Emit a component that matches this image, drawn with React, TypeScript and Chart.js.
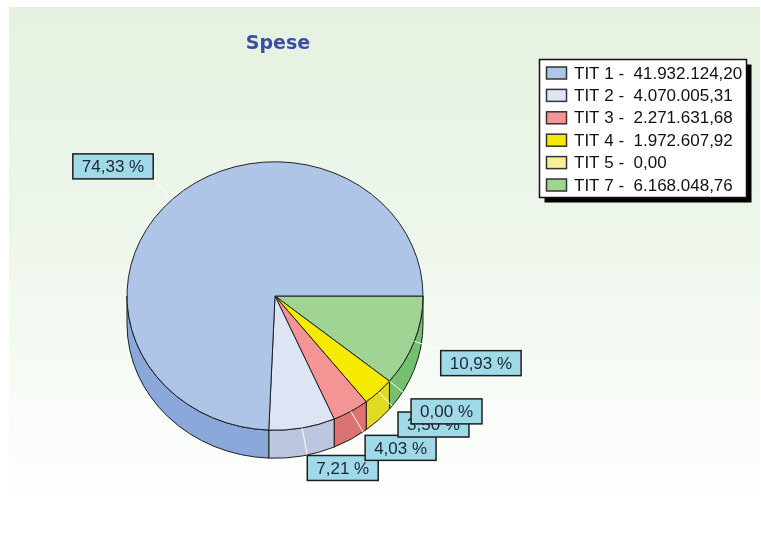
import React, { useEffect, useRef } from "react";
import { Chart, registerables } from "chart.js";

Chart.register(...registerables);

// ---- data ----
const chartTitle = "Spese";
const categories = ["TIT 1", "TIT 2", "TIT 3", "TIT 4", "TIT 5", "TIT 7"];
const values = [41932124.2, 4070005.31, 2271631.68, 1972607.92, 0.0, 6168048.76];
const valueLabels = ["41.932.124,20", "4.070.005,31", "2.271.631,68", "1.972.607,92", "0,00", "6.168.048,76"];
const percentLabels = ["74,33 %", "7,21 %", "4,03 %", "3,50 %", "0,00 %", "10,93 %"];

// ---- styles ----
const topColors = ["#aec5e7", "#dde4f4", "#f49494", "#f5ea00", "#f7f09a", "#a0d494"];
const sideColors = ["#8ca8da", "#bcc6de", "#dc7373", "#dfdb22", "#e0da80", "#74c070"];
const EDGE = "#1a1a1a";
const DEPTH = 28;
const TILT = 0.907;
const LABEL_FONT = "17px 'Liberation Sans', Arial, sans-serif";

const pie3d = {
  id: "pie3d",
  beforeDraw(chart: any) {
    const ctx = chart.ctx as CanvasRenderingContext2D;
    ctx.save();
    const g = ctx.createLinearGradient(0, 7, 0, 510);
    g.addColorStop(0, "#e5f1e1");
    g.addColorStop(0.5, "#eff7ed");
    g.addColorStop(1, "#ffffff");
    ctx.fillStyle = g;
    ctx.fillRect(9, 7, 751, 503);
    // title
    ctx.font = "bold 19px 'DejaVu Sans', Verdana, sans-serif";
    ctx.fillStyle = "#3a4ea2";
    ctx.textAlign = "center";
    ctx.textBaseline = "alphabetic";
    ctx.fillText(chartTitle, 278, 49);
    ctx.restore();
  },
  beforeDatasetsDraw(chart: any) {
    const ctx = chart.ctx as CanvasRenderingContext2D;
    const meta = chart.getDatasetMeta(0);
    const n = meta.data.length;
    ctx.save();
    for (let j = 0; j < n; j++) {
      const arc = meta.data[j];
      const p = arc.getProps(["x", "y", "startAngle", "endAngle", "outerRadius"], true);
      const rx = p.outerRadius;
      const ry = p.outerRadius * TILT;
      const a0 = Math.max(p.startAngle, 0);
      const b0 = Math.min(p.endAngle, Math.PI);
      if (b0 <= a0) continue;
      const i = n - 1 - j;
      ctx.beginPath();
      ctx.ellipse(p.x, p.y, rx, ry, 0, a0, b0, false);
      ctx.ellipse(p.x, p.y + DEPTH, rx, ry, 0, b0, a0, true);
      ctx.closePath();
      ctx.fillStyle = sideColors[i];
      ctx.fill();
      ctx.strokeStyle = EDGE;
      ctx.lineWidth = 1;
      ctx.stroke();
    }
    ctx.restore();
    const cy = meta.data[0].y;
    ctx.save();
    ctx.translate(0, cy);
    ctx.scale(1, TILT);
    ctx.translate(0, -cy);
  },
  afterDatasetsDraw(chart: any) {
    const ctx = chart.ctx as CanvasRenderingContext2D;
    ctx.restore();
    const meta = chart.getDatasetMeta(0);
    const n = meta.data.length;
    const boxes: any[] = [];
    ctx.save();
    ctx.font = LABEL_FONT;
    for (let i = 0; i < categories.length; i++) {
      const j = n - 1 - i;
      const p = meta.data[j].getProps(["x", "y", "startAngle", "endAngle", "outerRadius"], true);
      const m = (p.startAngle + p.endAngle) / 2;
      const c = Math.cos(m);
      const s = Math.sin(m);
      const px = p.x + p.outerRadius * c;
      const py = p.y + p.outerRadius * TILT * s;
      const ex = px + 28 * c;
      const ey = py + 28 * s;
      const w = ctx.measureText(percentLabels[i]).width + 18;
      const h = 25;
      const bx = c >= 0 ? ex : ex - w;
      const by = s >= 0 ? ey : ey - h;
      boxes.push({ bx, by, w, h, text: percentLabels[i], px, py, ex, ey });
    }
    // leaders
    ctx.strokeStyle = "#ffffff";
    ctx.lineWidth = 1;
    for (const b of boxes) {
      ctx.beginPath();
      ctx.moveTo(b.px, b.py);
      ctx.lineTo(b.ex, b.ey);
      ctx.stroke();
    }
    // label boxes
    for (const b of boxes) {
      ctx.fillStyle = "#a0dae8";
      ctx.fillRect(b.bx, b.by, b.w, b.h);
      ctx.strokeStyle = "#1e1e1e";
      ctx.lineWidth = 1.5;
      ctx.strokeRect(b.bx, b.by, b.w, b.h);
      ctx.fillStyle = "#1c2533";
      ctx.textAlign = "center";
      ctx.textBaseline = "middle";
      ctx.fillText(b.text, b.bx + b.w / 2, b.by + b.h / 2 + 1);
    }
    // legend
    const lx = 539.5, ly = 59.5, lw = 207, lh = 138;
    ctx.fillStyle = "#000000";
    ctx.fillRect(lx + 5, ly + 5, lw, lh);
    ctx.fillStyle = "#ffffff";
    ctx.fillRect(lx, ly, lw, lh);
    ctx.strokeStyle = "#111111";
    ctx.lineWidth = 1.5;
    ctx.strokeRect(lx, ly, lw, lh);
    ctx.font = LABEL_FONT;
    ctx.textAlign = "left";
    ctx.textBaseline = "middle";
    for (let i = 0; i < categories.length; i++) {
      const yc = 73 + i * 22.4;
      ctx.fillStyle = topColors[i];
      ctx.fillRect(546.5, yc - 6, 20, 12);
      ctx.strokeStyle = "#333333";
      ctx.lineWidth = 1.5;
      ctx.strokeRect(546.5, yc - 6, 20, 12);
      ctx.fillStyle = "#111111";
      ctx.fillText(`${categories[i]} -  ${valueLabels[i]}`, 574, yc + 1);
    }
    ctx.restore();
  },
};

export default function App() {
  const ref = useRef<HTMLCanvasElement | null>(null);
  useEffect(() => {
    if (!ref.current) return;
    const order = categories.map((_, i) => categories.length - 1 - i);
    const chart = new Chart(ref.current, {
      type: "pie",
      data: {
        labels: order.map((i) => categories[i]),
        datasets: [
          {
            data: order.map((i) => values[i]),
            backgroundColor: order.map((i) => topColors[i]),
            borderColor: EDGE,
            borderWidth: 1,
            clip: false as any,
          },
        ],
      },
      options: {
        responsive: false,
        animation: false,
        rotation: 90,
        layout: { padding: { left: 126.5, right: 337.5, top: 147.5, bottom: 94.5 } },
        plugins: {
          legend: { display: false },
          tooltip: { enabled: false },
          title: { display: false },
        },
      },
      plugins: [pie3d as any],
    });
    return () => chart.destroy();
  }, []);
  return (
    <div style={{ position: "absolute", left: 0, top: 0 }}>
      <canvas ref={ref} width={761} height={539} style={{ display: "block" }} />
    </div>
  );
}
